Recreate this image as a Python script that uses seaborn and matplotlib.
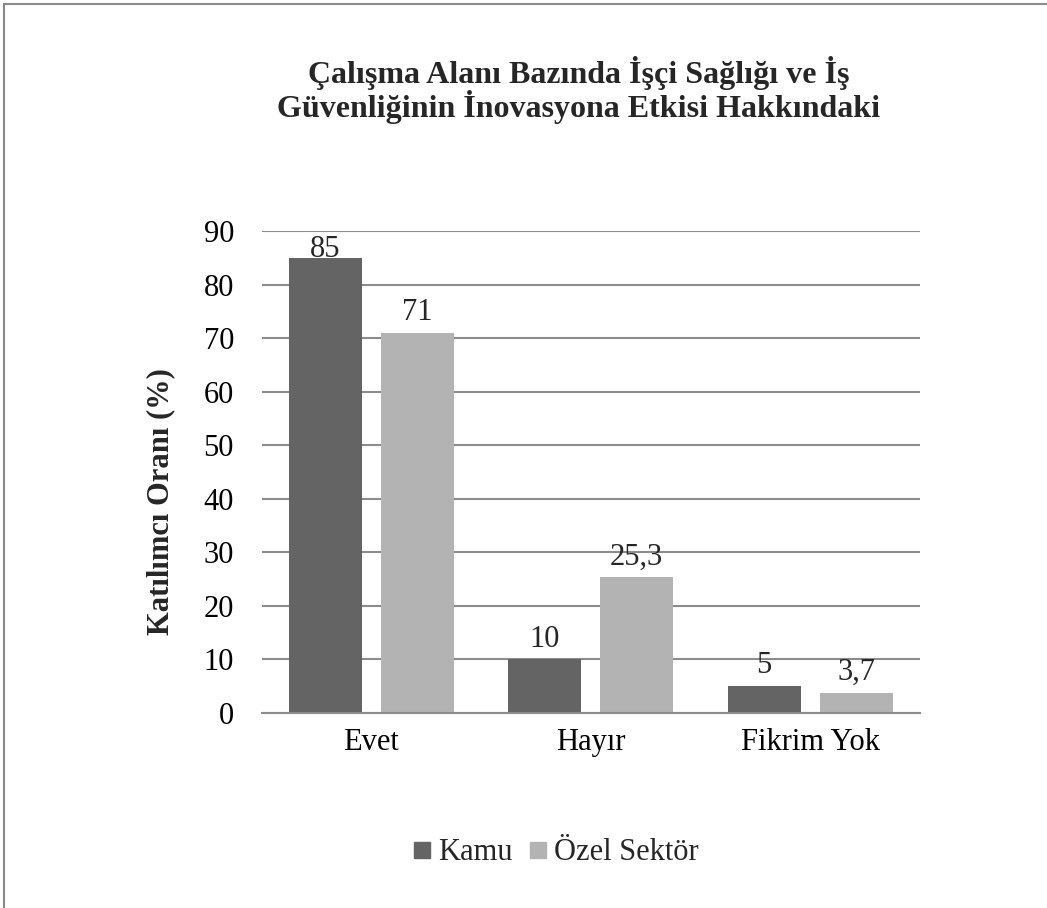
import pandas as pd
import seaborn as sns
import matplotlib.pyplot as plt
from matplotlib.lines import Line2D

# data
categories = ['Evet', 'Hayır', 'Fikrim Yok']
kamu = [85, 10, 5]
ozel = [71, 25.3, 3.7]
series = ['Kamu', 'Özel Sektör']
colors = ['#646464', '#b3b3b3']

df = pd.DataFrame({
    'cevap': categories * 2,
    'grup': [series[0]] * 3 + [series[1]] * 3,
    'oran': kamu + ozel,
})

sns.set_style('white')
plt.rcParams['font.family'] = ['Liberation Serif', 'DejaVu Serif']

fig = plt.figure(figsize=(10.47, 9.08), dpi=100)
ax = fig.add_axes([0.250, 0.2148, 0.6285, 0.5308])

sns.barplot(data=df, x='cevap', y='oran', hue='grup', order=categories,
            hue_order=series, palette=colors, width=0.838, gap=0.206,
            saturation=1, errorbar=None, linewidth=0, legend=False, ax=ax)

ax.set_ylim(0, 90)

# data labels (decimal comma), kept inside the plot area like Excel does
for cont in ax.containers:
    for bar, v in zip(cont, cont.datavalues):
        y = min(v + 2.4, 85.1)
        ax.text(bar.get_x() + bar.get_width() / 2, y, f'{v:g}'.replace('.', ','),
                ha='center', va='baseline', fontsize=22)

ax.set_yticks(range(0, 91, 10))
ax.yaxis.grid(True, color='#8c8c8c', linewidth=1.5)
ax.set_axisbelow(True)
for s in ['left', 'right', 'top']:
    ax.spines[s].set_visible(False)
ax.spines['bottom'].set_color('#8c8c8c')
ax.spines['bottom'].set_linewidth(1.5)
ax.tick_params(axis='both', length=0, labelsize=22, colors='black')
ax.tick_params(axis='x', pad=11)
ax.tick_params(axis='y', pad=20)
ax.set_xlabel('')
ax.set_ylabel('Katılımcı Oranı (%)', fontsize=22, fontweight='bold')
ax.yaxis.set_label_coords(-0.132, 0.438)

fig.text(0.553, 0.9086, 'Çalışma Alanı Bazında İşçi Sağlığı ve İş',
         ha='center', va='baseline', fontsize=23, fontweight='bold')
fig.text(0.553, 0.8711, 'Güvenliğinin İnovasyona Etkisi Hakkındaki',
         ha='center', va='baseline', fontsize=23, fontweight='bold')

handles = [Line2D([], [], marker='s', linestyle='', markersize=12, color=c) for c in colors]
fig.legend(handles, series, loc='center', bbox_to_anchor=(0.5315, 0.0606), ncol=2,
           frameon=False, fontsize=22, handletextpad=0.25, columnspacing=0.55,
           handlelength=0.55, borderpad=0)

# frame lines at the top and left edge
fig.add_artist(Line2D([0.004, 1], [0.996, 0.996], color='#8a8a8a', linewidth=1.5))
fig.add_artist(Line2D([0.004, 0.004], [0, 0.996], color='#8a8a8a', linewidth=1.5))

fig.savefig('out.png', dpi=100)
